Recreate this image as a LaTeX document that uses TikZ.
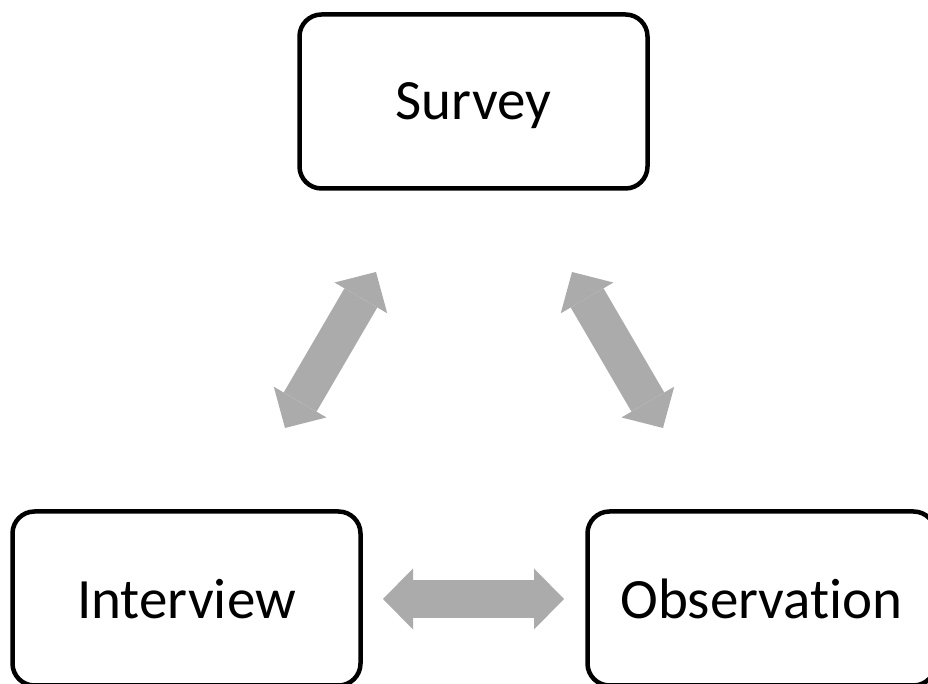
\documentclass[tikz,border=0pt]{standalone}
\usepackage{fontspec}
\setmainfont[Ligatures=NoCommon]{Carlito}
\usepackage{tikz}
\usepackage{xcolor}
\usetikzlibrary{arrows.meta}
\definecolor{arrowgray}{HTML}{ABABAB}

\begin{document}
\begin{tikzpicture}[x=0.5pt,y=0.5pt,
  method/.style={draw=black,line width=2.25pt,rounded corners=11pt,minimum width=174pt,minimum height=87pt,inner sep=0pt,text depth=0pt,font=\fontsize{28.5}{34}\selectfont},
  link/.style={draw=arrowgray,line width=19pt,>={Triangle[length=15pt,width=30.5pt,line width=0pt]},<->}]
\clip (0,0) rectangle (928,684);
\node[method] (survey) at (473.5,582.5) {Survey};
\node[method] (interview) at (186.5,85.5) {Interview};
\node[method] (observation) at (761.5,85.5) {Observation};
% ends of the block arrows
\coordinate (si) at (376,412);
\coordinate (is) at (285,256);
\coordinate (so) at (572,412);
\coordinate (os) at (663,256);
\coordinate (io) at (383,85);
\coordinate (oi) at (564,85);
\draw[link] (is) -- (si);
\draw[link] (so) -- (os);
\draw[link] (io) -- (oi);
\end{tikzpicture}
\end{document}
